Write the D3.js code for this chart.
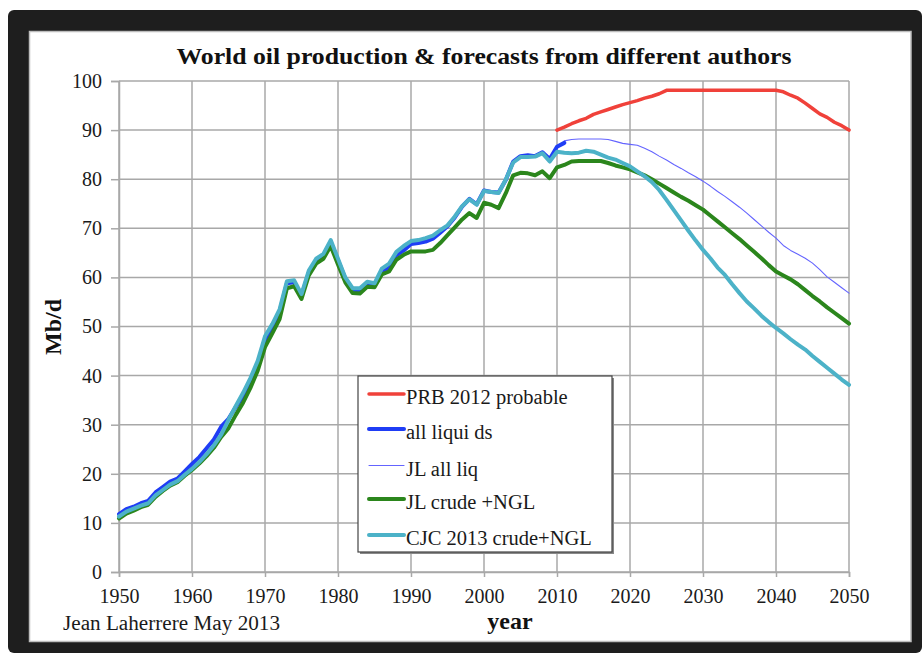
<!DOCTYPE html>
<html><head><meta charset="utf-8">
<script src="https://cdn.jsdelivr.net/npm/d3@7"></script>
<style>html,body{margin:0;padding:0;background:#fff;}svg{display:block;}</style>
</head><body>
<script>
const titleText = "World oil production & forecasts from different authors";
const yTicks = [0,10,20,30,40,50,60,70,80,90,100];
const xTicks = [1950,1960,1970,1980,1990,2000,2010,2020,2030,2040,2050];

const histYears = d3.range(1950, 2012);           // 1950..2011
const allLiquids = [11.8,12.8,13.3,14.0,14.5,16.2,17.3,18.4,19.0,20.5,
  22.0,23.4,25.2,27.0,29.6,31.2,33.6,35.8,39.0,42.5,
  47.0,49.5,53.0,58.8,59.0,56.3,61.0,63.5,64.5,67.2,
  63.5,59.8,57.5,57.3,58.6,58.3,61.0,62.0,64.5,65.5,
  66.8,67.0,67.3,67.9,69.1,70.4,72.2,74.4,76.0,74.9,
  77.7,77.4,77.3,79.9,83.6,84.7,84.9,84.7,85.5,84.1,
  86.6,87.4];

const fcYears = d3.range(1950, 2051);            // 1950..2050
const cjcCrudeNGL = [11.3,12.3,12.9,13.5,14.0,15.6,16.7,17.8,18.5,19.8,
  21.0,22.4,24.0,25.8,28.0,31.0,33.8,36.5,39.5,43.0,
  48.0,50.5,53.5,59.2,59.4,56.6,61.4,63.8,64.8,67.6,
  63.8,60.0,57.8,57.8,59.1,58.8,61.8,62.8,65.2,66.4,
  67.4,67.6,68.0,68.5,69.6,70.6,72.4,74.5,75.9,74.8,
  77.6,77.4,77.2,80.0,83.4,84.5,84.5,84.6,85.3,83.6,
  85.6,85.4,85.3,85.4,85.8,85.6,85.0,84.4,84.0,83.3,
  82.6,81.6,80.6,79.4,77.8,75.8,73.7,71.6,69.5,67.5,
  65.6,63.9,62.0,60.5,58.6,56.8,55.1,53.7,52.2,50.9,
  49.7,48.6,47.4,46.3,45.3,44.0,42.8,41.6,40.4,39.2,
  38.1];
const jlCrudeNGL = [10.9,11.9,12.5,13.2,13.7,15.3,16.5,17.6,18.3,19.6,
  20.8,22.1,23.6,25.3,27.5,29.3,32.0,34.5,37.5,41.0,
  45.8,48.6,51.5,57.8,58.2,55.6,60.4,62.8,63.8,66.4,
  62.6,59.0,56.8,56.7,58.1,58.0,60.6,61.2,63.6,64.6,
  65.3,65.3,65.3,65.6,67.0,68.6,70.2,71.8,73.1,72.1,
  75.2,74.8,74.1,77.2,80.8,81.3,81.2,80.8,81.6,80.2,
  82.4,82.9,83.6,83.7,83.7,83.7,83.7,83.3,82.8,82.4,
  82.0,81.4,80.8,80.0,79.1,78.2,77.3,76.4,75.6,74.7,
  73.8,72.6,71.4,70.2,69.0,67.8,66.5,65.2,63.9,62.5,
  61.2,60.4,59.6,58.6,57.4,56.2,55.1,53.9,52.8,51.7,
  50.6];

const jlYears = d3.range(2011, 2051);
const jlAllLiq = [87.8,88.1,88.2,88.2,88.2,88.2,88.1,87.7,87.3,87.1,
  86.9,86.3,85.6,84.7,83.9,83.0,82.2,81.3,80.5,79.6,
  78.6,77.5,76.5,75.4,74.3,73.1,71.8,70.5,69.2,68.0,
  66.5,65.5,64.7,63.9,62.9,61.6,60.1,59.0,57.9,56.8];

const prbYears = d3.range(2010, 2051);
const prb2012 = [90.0,90.6,91.3,91.9,92.4,93.2,93.7,94.2,94.7,95.2,
  95.6,96.0,96.5,96.9,97.4,98.1,98.1,98.1,98.1,98.1,
  98.1,98.1,98.1,98.1,98.1,98.1,98.1,98.1,98.1,98.1,
  98.1,97.8,97.1,96.5,95.5,94.4,93.3,92.6,91.6,90.9,
  90.0];

const seriesNames = ["PRB 2012 probable","all liqui ds","JL all liq","JL crude +NGL","CJC 2013 crude+NGL"];
const seriesColors = ["#f0413a","#1f3df5","#6464ff","#2b861c","#4cb2c8"];
const seriesWidths = [3.5,4,1.1,4,4];

const W = 922, H = 653;
const svg = d3.select("body").append("svg").attr("width", W).attr("height", H);

// frame
svg.append("rect").attr("x",8).attr("y",10).attr("width",W-8).attr("height",H-10).attr("fill","#1e1e1e").attr("rx",6);
svg.append("rect").attr("x",29.5).attr("y",31.5).attr("width",881.5).attr("height",610).attr("fill","#fff")
  .attr("stroke","#bdbdbd").attr("stroke-width",1.5);

const x = d3.scaleLinear().domain([1950,2050]).range([119,849]);
const y = d3.scaleLinear().domain([0,100]).range([572,81]);

const serif = "'Liberation Serif','Times New Roman',serif";

// gridlines
const grid = svg.append("g");
grid.selectAll(".hy").data(yTicks).join("line")
  .attr("x1", x(1950)).attr("x2", x(2050)).attr("y1", d=>y(d)).attr("y2", d=>y(d))
  .attr("stroke","#a8a8a8").attr("stroke-width",1.5);
grid.selectAll(".vx").data(xTicks).join("line")
  .attr("x1", d=>x(d)).attr("x2", d=>x(d)).attr("y1", y(0)).attr("y2", y(100))
  .attr("stroke","#a8a8a8").attr("stroke-width",1.5);

// axes
const yAxis = svg.append("g").attr("transform",`translate(${x(1950)},0)`)
  .call(d3.axisLeft(y).tickValues(yTicks).tickSize(8).tickPadding(9));
const xAxis = svg.append("g").attr("transform",`translate(0,${y(0)})`)
  .call(d3.axisBottom(x).tickValues(xTicks).tickFormat(d3.format("d")).tickSize(5).tickPadding(12));
[yAxis,xAxis].forEach(a=>{
  a.select(".domain").attr("stroke","#a8a8a8").attr("stroke-width",1.5);
  a.selectAll(".tick line").attr("stroke","#a8a8a8").attr("stroke-width",1.5);
  a.selectAll("text").attr("font-family",serif).attr("font-size",20).attr("fill","#1a1a1a");
});

// lines
const line = d3.line().x(d=>x(d[0])).y(d=>y(d[1]));
const zip = (xs, vs) => xs.map((v,i)=>[v, vs[i]]);
const g = svg.append("g").attr("fill","none").attr("stroke-linejoin","round").attr("stroke-linecap","round");
g.append("path").attr("d", line(zip(jlYears, jlAllLiq))).attr("stroke",seriesColors[2]).attr("stroke-width",seriesWidths[2]);
g.append("path").attr("d", line(zip(prbYears, prb2012))).attr("stroke",seriesColors[0]).attr("stroke-width",seriesWidths[0]);
g.append("path").attr("d", line(zip(histYears, allLiquids))).attr("stroke",seriesColors[1]).attr("stroke-width",seriesWidths[1]);
g.append("path").attr("d", line(zip(fcYears, jlCrudeNGL))).attr("stroke",seriesColors[3]).attr("stroke-width",seriesWidths[3]);
g.append("path").attr("d", line(zip(fcYears, cjcCrudeNGL))).attr("stroke",seriesColors[4]).attr("stroke-width",seriesWidths[4]);

// title
svg.append("text").attr("x",484).attr("y",64).attr("text-anchor","middle")
  .attr("font-family",serif).attr("font-weight","bold").attr("font-size",24).attr("fill","#111")
  .attr("textLength",615).attr("lengthAdjust","spacingAndGlyphs").text(titleText);

// axis titles
svg.append("text").attr("transform","translate(61,327) rotate(-90)").attr("text-anchor","middle")
  .attr("font-family",serif).attr("font-weight","bold").attr("font-size",24).attr("fill","#111").text("Mb/d");
svg.append("text").attr("x",510).attr("y",629).attr("text-anchor","middle")
  .attr("font-family",serif).attr("font-weight","bold").attr("font-size",24).attr("fill","#111").text("year");
svg.append("text").attr("x",63).attr("y",630)
  .attr("font-family",serif).attr("font-size",20).attr("fill","#1a1a1a")
  .attr("textLength",217).attr("lengthAdjust","spacingAndGlyphs").text("Jean Laherrere May 2013");

// legend
const lg = svg.append("g");
lg.append("rect").attr("x",360).attr("y",378).attr("width",254).attr("height",176).attr("fill","#888");
lg.append("rect").attr("x",358).attr("y",376).attr("width",254).attr("height",176).attr("fill","#fff")
  .attr("stroke","#444").attr("stroke-width",1.2);
const rowsBase = [404,439,475.5,509,545];
seriesNames.forEach((n,i)=>{
  lg.append("line").attr("x1",369).attr("x2",404).attr("y1",rowsBase[i]-10).attr("y2",rowsBase[i]-10)
    .attr("stroke",seriesColors[i]).attr("stroke-width",seriesWidths[i]).attr("stroke-linecap","round");
  lg.append("text").attr("x",406).attr("y",rowsBase[i]).attr("font-family",serif).attr("font-size",20.5)
    .attr("fill","#1a1a1a").text(n);
});
</script>
</body></html>
